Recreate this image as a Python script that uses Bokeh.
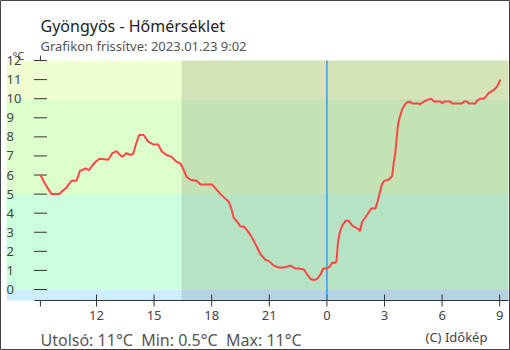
from bokeh.plotting import figure
from bokeh.models import BoxAnnotation
from bokeh.core.properties import value
from bokeh.embed import file_html
from bokeh.resources import INLINE

# ---- data (hours since midnight of 2023.01.22; 24 = midnight) ----
hours = [9.08, 9.34, 9.66, 10.06, 10.27, 10.44, 10.70, 10.96, 11.13, 11.43, 11.60, 11.78, 11.96,
         12.17, 12.61, 12.83, 13.04, 13.18, 13.35, 13.56, 13.73, 13.91, 14.05, 14.22, 14.46,
         14.69, 14.95, 15.21, 15.39, 15.65, 15.91, 16.17, 16.38, 16.55, 16.69, 16.90, 17.21,
         17.42, 18.02, 18.20, 18.46, 18.72, 18.89, 19.02, 19.15, 19.33, 19.50, 19.67, 19.85,
         20.02, 20.19, 20.37, 20.54, 20.80, 20.97, 21.23, 21.49, 21.76, 22.10, 22.36, 22.54,
         22.80, 22.97, 23.15, 23.32, 23.49, 23.67, 23.81, 24.02, 24.19, 24.27, 24.45, 24.50,
         24.57, 24.67, 24.80, 24.97, 25.14, 25.32, 25.49, 25.66, 25.72, 25.84, 26.02, 26.18,
         26.31, 26.53, 26.65, 26.76, 26.88, 27.00, 27.22, 27.40, 27.48, 27.57, 27.63, 27.71,
         27.80, 27.92, 28.04, 28.15, 28.32, 28.45, 28.79, 28.84, 28.97, 29.14, 29.40, 29.48,
         29.57, 29.92, 30.01, 30.09, 30.44, 30.53, 31.05, 31.13, 31.31, 31.39, 31.74, 31.83,
         32.00, 32.17, 32.31, 32.43, 32.61, 32.74, 32.87, 32.95, 33.03]
temps = [6.0, 5.5, 5.0, 5.0, 5.2, 5.35, 5.7, 5.7, 6.2, 6.35, 6.25, 6.5, 6.7,
         6.85, 6.8, 7.15, 7.25, 7.1, 6.95, 7.15, 7.05, 7.1, 7.6, 8.1, 8.1,
         7.75, 7.6, 7.6, 7.25, 7.05, 6.95, 6.7, 6.6, 6.25, 5.9, 5.75, 5.7,
         5.5, 5.5, 5.3, 5.0, 4.75, 4.6, 4.25, 3.75, 3.55, 3.3, 3.3, 3.1,
         2.85, 2.55, 2.2, 1.85, 1.55, 1.5, 1.25, 1.15, 1.15, 1.25, 1.1, 1.1,
         1.05, 0.8, 0.55, 0.5, 0.55, 0.8, 1.1, 1.1, 1.25, 1.4, 1.4, 1.5,
         2.4, 3.0, 3.35, 3.6, 3.6, 3.35, 3.25, 3.15, 3.05, 3.55, 3.8, 4.05,
         4.25, 4.25, 4.65, 5.1, 5.55, 5.7, 5.75, 5.95, 6.65, 7.2, 7.9, 8.7,
         9.05, 9.45, 9.65, 9.8, 9.85, 9.75, 9.75, 9.7, 9.8, 9.9, 10.0, 9.95,
         9.85, 9.85, 9.75, 9.85, 9.85, 9.75, 9.75, 9.85, 9.85, 9.75, 9.75, 9.9,
         10.0, 10.0, 10.15, 10.3, 10.4, 10.5, 10.65, 10.8, 11.0]

y_ticks = list(range(0, 13))
x_ticks = [9.08, 12, 15, 18, 21, 24, 27, 30, 33]
x_tick_labels = ["", "12", "15", "18", "21", "0", "3", "6", "9"]
band_limits = [0, 5, 10, 12]
band_colors = ["#cceeff", "#ccffdd", "#ddffcc", "#f0ffd0"]
sunset = 16.43
now = 24.0

title_text = "Gyöngyös - Hőmérséklet"
subtitle_text = "Grafikon frissítve: 2023.01.23 9:02"
footer_text = "Utolsó: 11°C\u00a0\u00a0Min: 0.5°C\u00a0\u00a0Max: 11°C"
credit_text = "(C) Időkép"
unit_text = "°C"

# ---- layout: the plot frame covers the whole canvas ----
W, H = 510, 350
FONT = "Noto Sans"
PX_H = 19.2          # pixels per hour
PX_V = 19.08         # pixels per degree
X0 = 12 - 96 / PX_H  # time at the left canvas edge
Y1 = 289 / PX_V      # value at the top canvas edge


def tx(px):
    return X0 + px / PX_H


def vy(py):
    return Y1 - py / PX_V


t0 = hours[0]
plot_l, plot_r, plot_b = tx(6), tx(508), vy(300)
axis_y = plot_b

p = figure(width=W, height=H, x_range=(X0, tx(W)), y_range=(vy(H), Y1),
           output_backend="svg", toolbar_location=None,
           x_axis_location=None, y_axis_location=None, min_border=0,
           background_fill_color="white", border_fill_color="white",
           outline_line_color="#444", outline_line_width=1)
p.grid.visible = False

edges = [plot_b] + band_limits
for lo, hi, c in zip(edges[:-1], edges[1:], band_colors):
    p.add_layout(BoxAnnotation(left=plot_l, right=plot_r, bottom=lo, top=hi, fill_color=c,
                               fill_alpha=1.0, line_color=None, level="underlay"))
p.add_layout(BoxAnnotation(left=sunset, right=plot_r, bottom=plot_b, top=band_limits[-1],
                           fill_color="black", fill_alpha=0.11, line_color=None, level="underlay"))

# y axis (drawn inside the plot)
p.segment(x0=[t0], y0=[y_ticks[-1]], x1=[t0], y1=[y_ticks[-1] + 5 / PX_V], line_color="#333", line_width=1)
p.scatter(x=[t0] * len(y_ticks), y=y_ticks, marker="dash", size=13, line_color="#333", line_width=1)
p.text(x=[plot_l] * len(y_ticks), y=y_ticks, text=[str(v) for v in y_ticks],
       text_font=value(FONT), text_font_size="13px", text_color="#444",
       text_align="left", text_baseline="middle")

# x axis
tick_half = 6 / PX_V
p.segment(x0=[t0 - 6 / PX_H], y0=[axis_y], x1=[plot_r], y1=[axis_y], line_color="#333", line_width=1)
p.segment(x0=x_ticks[1:], y0=[axis_y - tick_half] * (len(x_ticks) - 1),
          x1=x_ticks[1:], y1=[axis_y + tick_half] * (len(x_ticks) - 1), line_color="#333", line_width=1)
p.segment(x0=x_ticks[:1], y0=[axis_y - tick_half], x1=x_ticks[:1], y1=[axis_y], line_color="#333", line_width=1)
p.text(x=x_ticks, y=[vy(315)] * len(x_ticks), text=x_tick_labels,
       text_font=value(FONT), text_font_size="13px", text_color="#444",
       text_align="center", text_baseline="middle")

# now line and data
p.segment(x0=[now], y0=[plot_b], x1=[now], y1=[band_limits[-1]], line_color="#2a90e0", line_width=1.3)
p.line(hours, temps, line_color="#ff4444", line_width=2)


def add_text(text, cx, cy, size, color):
    p.text(x=[tx(cx)], y=[vy(cy)], text=[text], text_font=value(FONT), text_font_size=size,
           text_color=color, text_align="left", text_baseline="alphabetic")


add_text(title_text, 40, 25, "16px", "#222")
add_text(subtitle_text, 40, 45, "13px", "#555")
add_text(unit_text, 12, 55, "11px", "#444")
add_text(footer_text, 40, 339, "16px", "#555")
add_text(credit_text, 425, 336, "13px", "#444")

open("out.html", "w").write(file_html(p, INLINE))
